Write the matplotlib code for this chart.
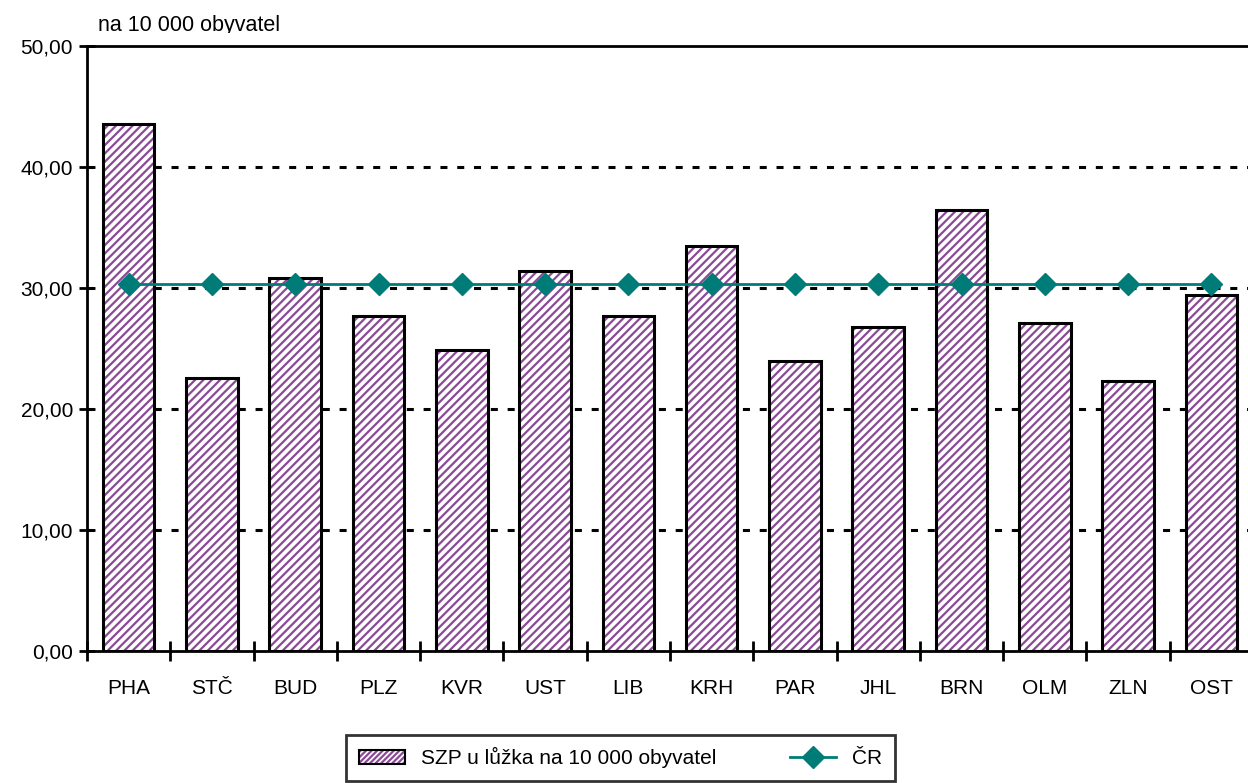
import numpy as np
import matplotlib.pyplot as plt
from matplotlib.lines import Line2D
from matplotlib.patches import Patch
from matplotlib.transforms import Bbox

plt.rcParams['font.family'] = ['Liberation Sans', 'DejaVu Sans']
plt.rcParams['hatch.linewidth'] = 1.6

# Kraje
kraje = ['PHA', 'STČ', 'BUD', 'PLZ', 'KVR', 'UST', 'LIB',
         'KRH', 'PAR', 'JHL', 'BRN', 'OLM', 'ZLN', 'OST']
# SZP u lůžka na 10 000 obyvatel
szp = [43.55, 22.56, 30.83, 27.69, 24.88, 31.40, 27.69,
       33.47, 23.97, 26.78, 36.45, 27.11, 22.31, 29.42]
# průměr ČR
cr = [30.33] * len(kraje)

fialova = '#8a4a96'
tyrkys = '#007c78'

fig = plt.figure(figsize=(12.48, 7.83), dpi=100)
ax = fig.add_axes([87 / 1248, 1 - 651 / 783, 1166 / 1248, 605 / 783])

x = np.arange(len(kraje))
# šrafování zvlášť (barva šrafy se bere z edgecolor), obrys zvlášť
ax.bar(x, szp, width=0.62, color='white', edgecolor=fialova, linewidth=0,
       hatch='////', zorder=2)
ax.bar(x, szp, width=0.62, color='none', edgecolor='black', linewidth=2.2,
       zorder=2)
ax.plot(x, cr, color=tyrkys, linewidth=2, marker='D', markersize=11,
        markeredgecolor=tyrkys, zorder=3)

# mřížka
for yv in [10, 20, 30, 40]:
    ax.axhline(yv, color='black', linewidth=2.2, linestyle=(0, (2.3, 3.2)),
               zorder=1)

ax.set_xlim(-0.5, len(kraje) - 0.5)
ax.set_ylim(0, 50)
ax.set_yticks(np.arange(0, 51, 10))
ax.set_yticklabels([f'{v:.2f}'.replace('.', ',') for v in np.arange(0, 51, 10)],
                   fontsize=15)
ax.tick_params(axis='y', direction='inout', length=12, width=2, pad=4)

ax.set_xticks(np.arange(-0.5, len(kraje), 1))
ax.set_xticklabels([])
ax.set_xticks(x, minor=True)
ax.set_xticklabels(kraje, minor=True, fontsize=15)
ax.tick_params(axis='x', which='major', direction='inout', length=14, width=2)
ax.tick_params(axis='x', which='minor', length=0, pad=20)

for s in ['left', 'bottom', 'top']:
    ax.spines[s].set_linewidth(2)
ax.spines['right'].set_visible(False)

t = fig.text(98 / 1248, 1 - 26 / 783, 'na 10 000 obyvatel', fontsize=15.5,
             va='center', ha='left')
t.set_clip_box(Bbox([[0, 1 - 33 / 783], [1, 1]]).transformed(fig.transFigure))
t.set_clip_on(True)

# ikona v legendě: šrafa + černý obrys přes sebe
ikona = (Patch(facecolor='white', edgecolor=fialova, hatch='//////',
               linewidth=0),
         Patch(facecolor='none', edgecolor='black', linewidth=1.5))
handles = [ikona,
           Line2D([0], [0], color=tyrkys, linewidth=2, marker='D',
                  markersize=11)]
leg = fig.legend(handles, ['SZP u lůžka na 10 000 obyvatel', 'ČR'],
                 loc='lower left', bbox_to_anchor=(336 / 1248, -8 / 783),
                 ncol=2, fontsize=15, frameon=True, fancybox=False,
                 edgecolor='black', columnspacing=3.5, handlelength=2.2,
                 borderpad=0.6)
leg.get_frame().set_linewidth(2)

fig.savefig('out.png', dpi=100)
